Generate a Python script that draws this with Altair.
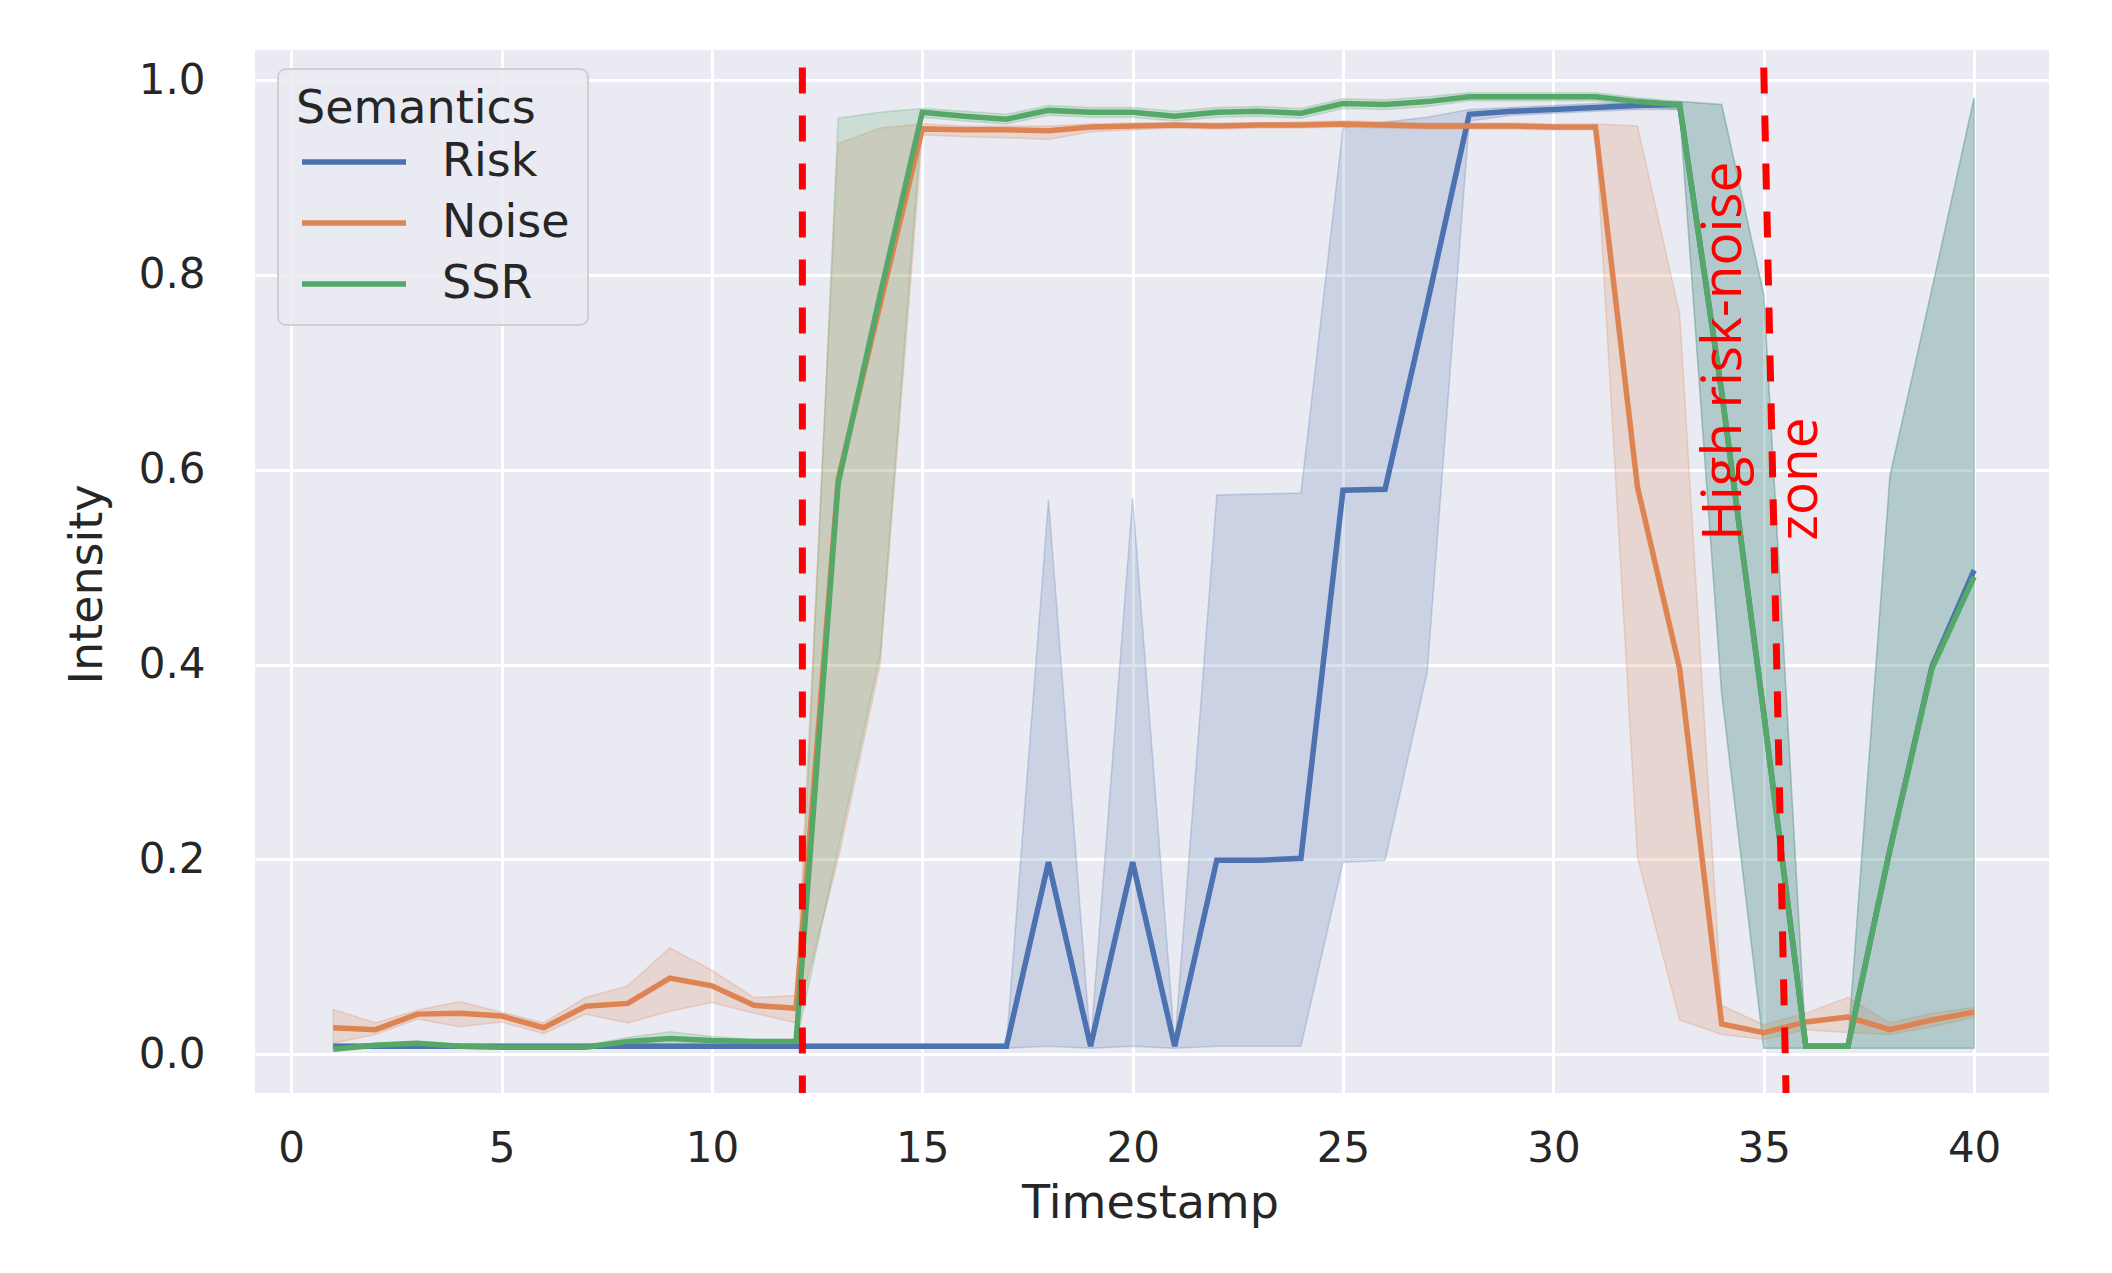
import altair as alt
import pandas as pd

# ---------------- data ----------------
timestamps = list(range(1, 41))
series_names = ["Risk", "Noise", "SSR"]
series_colors = ["#4C72B0", "#DD8452", "#55A868"]

risk_mean = [0.008, 0.008, 0.008, 0.008, 0.008, 0.008, 0.008, 0.008, 0.008, 0.008,
             0.008, 0.008, 0.008, 0.008, 0.008, 0.008, 0.008, 0.197, 0.008, 0.197,
             0.008, 0.199, 0.199, 0.201, 0.579, 0.580, 0.770, 0.965, 0.968, 0.970,
             0.972, 0.974, 0.975, 0.680, 0.350, 0.008, 0.008, 0.210, 0.398, 0.497]
risk_low = [0.006, 0.006, 0.006, 0.006, 0.006, 0.006, 0.006, 0.006, 0.006, 0.006,
            0.006, 0.006, 0.006, 0.006, 0.006, 0.006, 0.006, 0.008, 0.006, 0.008,
            0.006, 0.008, 0.008, 0.008, 0.197, 0.199, 0.392, 0.958, 0.964, 0.966,
            0.968, 0.970, 0.970, 0.370, 0.006, 0.006, 0.006, 0.006, 0.006, 0.006]
risk_high = [0.010, 0.010, 0.010, 0.010, 0.010, 0.010, 0.010, 0.010, 0.010, 0.010,
             0.010, 0.010, 0.010, 0.010, 0.010, 0.010, 0.010, 0.569, 0.010, 0.571,
             0.010, 0.574, 0.575, 0.576, 0.951, 0.957, 0.962, 0.970, 0.972, 0.974,
             0.976, 0.977, 0.978, 0.975, 0.780, 0.010, 0.010, 0.594, 0.786, 0.982]

noise_mean = [0.027, 0.025, 0.041, 0.042, 0.039, 0.027, 0.049, 0.052, 0.078, 0.070,
              0.050, 0.047, 0.590, 0.770, 0.950, 0.949, 0.949, 0.948, 0.952, 0.953,
              0.954, 0.953, 0.954, 0.954, 0.955, 0.954, 0.953, 0.953, 0.953, 0.952,
              0.952, 0.582, 0.396, 0.031, 0.022, 0.033, 0.038, 0.025, 0.035, 0.043]
noise_low = [0.011, 0.020, 0.036, 0.028, 0.033, 0.021, 0.041, 0.032, 0.044, 0.053,
             0.042, 0.032, 0.200, 0.400, 0.944, 0.942, 0.941, 0.939, 0.947, 0.949,
             0.951, 0.950, 0.951, 0.951, 0.952, 0.951, 0.950, 0.950, 0.950, 0.949,
             0.949, 0.202, 0.035, 0.020, 0.015, 0.025, 0.022, 0.020, 0.028, 0.038]
noise_high = [0.046, 0.032, 0.045, 0.054, 0.043, 0.032, 0.058, 0.070, 0.109, 0.086,
              0.058, 0.060, 0.935, 0.951, 0.955, 0.953, 0.953, 0.953, 0.955, 0.956,
              0.956, 0.956, 0.956, 0.957, 0.958, 0.957, 0.956, 0.956, 0.956, 0.955,
              0.955, 0.953, 0.760, 0.050, 0.030, 0.042, 0.058, 0.032, 0.042, 0.048]

ssr_mean = [0.005, 0.009, 0.011, 0.008, 0.007, 0.007, 0.007, 0.013, 0.016, 0.014,
            0.013, 0.013, 0.586, 0.780, 0.967, 0.963, 0.960, 0.969, 0.967, 0.967,
            0.963, 0.967, 0.968, 0.966, 0.976, 0.975, 0.978, 0.983, 0.983, 0.983,
            0.983, 0.978, 0.975, 0.680, 0.350, 0.008, 0.008, 0.210, 0.396, 0.490]
ssr_low = [0.004, 0.007, 0.009, 0.006, 0.005, 0.005, 0.005, 0.010, 0.011, 0.011,
           0.011, 0.011, 0.210, 0.410, 0.962, 0.958, 0.955, 0.964, 0.962, 0.962,
           0.958, 0.962, 0.963, 0.961, 0.971, 0.970, 0.973, 0.979, 0.979, 0.979,
           0.979, 0.973, 0.970, 0.370, 0.006, 0.006, 0.006, 0.006, 0.006, 0.006]
ssr_high = [0.007, 0.011, 0.013, 0.010, 0.009, 0.009, 0.009, 0.017, 0.023, 0.018,
            0.015, 0.015, 0.961, 0.967, 0.971, 0.968, 0.965, 0.974, 0.972, 0.972,
            0.968, 0.972, 0.973, 0.971, 0.981, 0.980, 0.983, 0.987, 0.987, 0.987,
            0.987, 0.982, 0.978, 0.975, 0.780, 0.010, 0.010, 0.594, 0.786, 0.982]

x_ticks = [0, 5, 10, 15, 20, 25, 30, 35, 40]
y_ticks = [0.0, 0.2, 0.4, 0.6, 0.8, 1.0]

# red dashed markers (data coordinates: top / bottom end)
marker_x_top = [12.15, 35.0]
marker_x_bottom = [12.15, 35.53]
marker_y_top = [1.013, 1.013]
marker_y_bottom = [-0.04, -0.04]

zone_label = ["High risk-noise", "zone"]
zone_label_x = [34.46]
zone_label_y = [0.527]

# ---------------- tables ----------------
means = [risk_mean, noise_mean, ssr_mean]
lows = [risk_low, noise_low, ssr_low]
highs = [risk_high, noise_high, ssr_high]
rows = []
for name, m, lo, hi in zip(series_names, means, lows, highs):
    for t, a, b, c in zip(timestamps, m, lo, hi):
        rows.append({"Timestamp": t, "Intensity": a, "low": b, "high": c, "Semantics": name})
df = pd.DataFrame(rows)

markers = pd.DataFrame({"x": marker_x_top, "x2": marker_x_bottom,
                        "y": marker_y_top, "y2": marker_y_bottom})
label_df = pd.DataFrame({"x": zone_label_x, "y": zone_label_y})

# ---------------- scales / axes ----------------
x_scale = alt.Scale(domain=[-0.86, 41.78], nice=False, zero=False)
y_scale = alt.Scale(domain=[-0.04, 1.031], nice=False, zero=False)
color_scale = alt.Scale(domain=series_names, range=series_colors)

x_axis = alt.Axis(values=x_ticks, format="d", title="Timestamp",
                  labelPadding=68, labelBaseline="alphabetic",
                  titleX=895, titleY=124, titleBaseline="alphabetic", titleAlign="center")
y_axis = alt.Axis(values=y_ticks, format=".1f", title="Intensity",
                  labelPadding=50, labelBaseline="middle",
                  titleX=-154, titleY=534, titleAngle=270,
                  titleBaseline="alphabetic", titleAlign="center")

# long, thin line glyph for the legend (path scaled by sqrt(size)/2)
legend = alt.Legend(
    title="Semantics", orient="none", legendX=23, legendY=19,
    fillColor="rgba(234,234,242,0.85)", strokeColor="#D0D0D0",
    cornerRadius=8, padding=18,
    titleFont="DejaVu Sans", titleFontSize=46, titleFontWeight="normal", titleColor="#262626",
    titlePadding=6, titleLimit=1000,
    labelFont="DejaVu Sans", labelFontSize=46, labelColor="#262626", labelLimit=1000,
    symbolType="M-3,0L3,0", symbolSize=1202, symbolStrokeWidth=5.5,
    symbolOffset=35, labelOffset=65, rowPadding=15,
)


def xenc(field):
    return alt.X(field, scale=x_scale, axis=x_axis)


def yenc(field):
    return alt.Y(field, scale=y_scale, axis=y_axis)


base = alt.Chart(df)

bands = []
lines = []
for name, col in zip(series_names, series_colors):
    sub = base.transform_filter(alt.datum.Semantics == name)
    bands.append(
        sub.mark_area(fill=col, stroke=col, fillOpacity=0.2, strokeOpacity=0.25,
                      strokeWidth=1.5).encode(
            x=xenc("Timestamp:Q"),
            y=yenc("low:Q"),
            y2="high:Q",
        )
    )
    lines.append(
        sub.mark_line(strokeWidth=5.5).encode(
            x=xenc("Timestamp:Q"),
            y=yenc("Intensity:Q"),
            color=alt.Color("Semantics:N", scale=color_scale, legend=legend),
        )
    )

rules = alt.Chart(markers).mark_rule(color="#FF0000", strokeWidth=7,
                                     strokeDash=[26, 22]).encode(
    x=xenc("x:Q"),
    x2="x2:Q",
    y=yenc("y:Q"),
    y2="y2:Q",
)

zone_text = alt.Chart(label_df).mark_text(
    text=zone_label, angle=270, align="left", baseline="alphabetic",
    font="Open Sans", fontSize=55, color="#FF0000", lineHeight=76,
).encode(
    x=xenc("x:Q"),
    y=yenc("y:Q"),
)

chart = alt.layer(*bands, *lines, rules, zone_text).properties(
    width=1794, height=1043,
    autosize=alt.AutoSizeParams(type="none"),
    padding={"left": 247, "top": 42, "right": 50, "bottom": 160},
    background="white",
).configure_view(
    fill="#EAEAF2", strokeWidth=0,
).configure_axis(
    grid=True, gridColor="white", gridWidth=3, domain=False, ticks=False, tickSize=0,
    labelFont="DejaVu Sans", labelFontSize=42, labelColor="#262626",
    titleFont="DejaVu Sans", titleFontSize=46, titleFontWeight="normal", titleColor="#262626",
).configure_legend(
    strokeWidth=2,
)

chart.save("out.html", embed_options={"renderer": "svg", "actions": False})
